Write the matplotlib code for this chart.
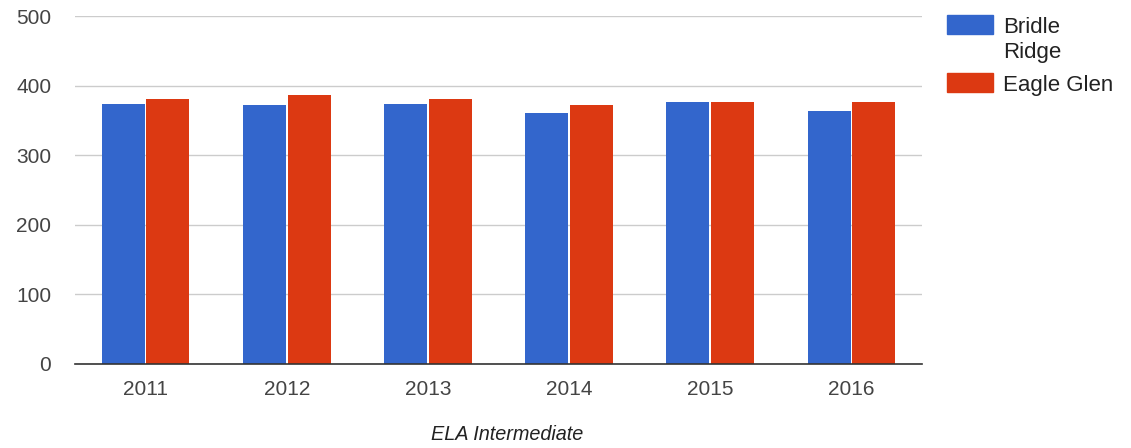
import numpy as np
import matplotlib.pyplot as plt
from matplotlib.patches import Rectangle

plt.rcParams['font.family'] = ['Liberation Sans', 'DejaVu Sans']

years = ['2011', '2012', '2013', '2014', '2015', '2016']
bridle_ridge = [374, 372, 374, 361, 376, 363]
eagle_glen = [381, 386, 381, 372, 376, 376]

blue = '#3366cc'
red = '#dc3912'
text_col = '#444444'

W, H = 1131, 448
fig = plt.figure(figsize=(W / 100, H / 100), dpi=100)
ax = fig.add_axes([0.0663, 0.188, 0.749, 0.776])

x = np.arange(len(years))
w = 0.305
ax.bar(x - w / 2 - 0.006, bridle_ridge, w, color=blue, zorder=3)
ax.bar(x + w / 2 + 0.006, eagle_glen, w, color=red, zorder=3)

ax.set_xlim(-0.5, len(years) - 0.5)
ax.set_ylim(0, 500)
ax.set_yticks(range(0, 501, 100))
ax.set_xticks(x)
ax.set_xticklabels(years)
ax.grid(axis='y', color='#cccccc', linewidth=1, zorder=0)
ax.tick_params(length=0, labelsize=15, colors=text_col)
ax.tick_params(axis='y', pad=17)
ax.tick_params(axis='x', pad=12)
for s in ['top', 'right', 'left']:
    ax.spines[s].set_visible(False)
ax.spines['bottom'].set_color('#333333')
ax.spines['bottom'].set_linewidth(1.2)
ax.spines['bottom'].set_zorder(4)

ax.set_xlabel('ELA Intermediate', fontsize=14.3, style='italic', color='#222222')
ax.xaxis.set_label_coords(0.51, -0.176)

# legend, drawn by hand so the swatch sits beside the first line
def px(xp, yp):
    return xp / W, 1 - yp / H

fig.patches.append(Rectangle(px(947, 34), 46 / W, 19 / H, color=blue,
                             transform=fig.transFigure, figure=fig))
fig.patches.append(Rectangle(px(947, 92), 46 / W, 19 / H, color=red,
                             transform=fig.transFigure, figure=fig))
leg_kw = dict(fontsize=16, color='#222222', va='baseline', ha='left')
fig.text(*px(1003, 33), 'Bridle', **leg_kw)
fig.text(*px(1003, 58), 'Ridge', **leg_kw)
fig.text(*px(1003, 90.5), 'Eagle Glen', **leg_kw)

fig.savefig('out.png')
